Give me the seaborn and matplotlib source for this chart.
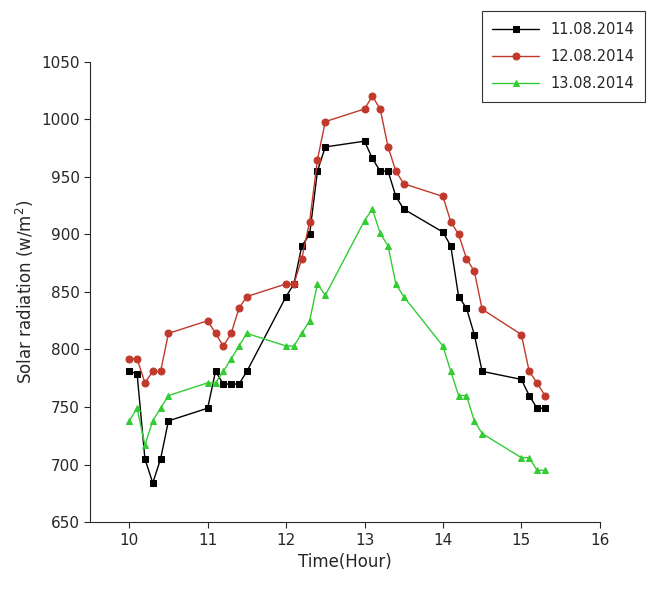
import matplotlib
matplotlib.use('Agg')
import matplotlib.pyplot as plt
import pandas as pd
import seaborn as sns

hours = [10.0, 10.1, 10.2, 10.3, 10.4, 10.5, 11.0, 11.1, 11.2, 11.3, 11.4, 11.5,
         12.0, 12.1, 12.2, 12.3, 12.4, 12.5, 13.0, 13.1, 13.2, 13.3, 13.4, 13.5,
         14.0, 14.1, 14.2, 14.3, 14.4, 14.5, 15.0, 15.1, 15.2, 15.3]

day1 = [781, 779, 705, 684, 705, 738, 749, 781, 770, 770, 770, 781,
        846, 857, 890, 900, 955, 976, 981, 966, 955, 955, 933, 922,
        902, 890, 846, 836, 813, 781, 774, 760, 749, 749]
day2 = [792, 792, 771, 781, 781, 814, 825, 814, 803, 814, 836, 846,
        857, 857, 879, 911, 965, 998, 1009, 1020, 1009, 976, 955, 944,
        933, 911, 900, 879, 868, 835, 813, 781, 771, 760]
day3 = [738, 749, 717, 738, 749, 760, 771, 771, 781, 792, 803, 814,
        803, 803, 814, 825, 857, 847, 912, 922, 901, 890, 857, 846,
        803, 781, 760, 760, 738, 727, 706, 706, 695, 695]

labels = ['11.08.2014', '12.08.2014', '13.08.2014']
colors = ['black', '#c0392b', '#33cc33']
markers = ['s', 'o', '^']

df = pd.DataFrame({'Hour': hours * 3,
                   'Radiation': day1 + day2 + day3,
                   'Date': [l for l in labels for _ in hours]})

sns.set_style('white')
fig = plt.figure(figsize=(6.62, 5.94), dpi=100)
ax = fig.add_axes([0.136, 0.121, 0.77, 0.775])

for lab, c, m in zip(labels, colors, markers):
    sub = df[df['Date'] == lab]
    sns.lineplot(data=sub, x='Hour', y='Radiation', ax=ax, color=c, marker=m,
                 markersize=5, markeredgecolor=c, linewidth=1, label=lab)

ax.set_xlim(9.5, 16)
ax.set_ylim(650, 1050)
ax.set_xticks([10, 11, 12, 13, 14, 15, 16])
ax.set_yticks(range(650, 1051, 50))
ax.tick_params(labelsize=11, direction='out', length=4, left=True, bottom=True)
ax.spines['top'].set_visible(False)
ax.spines['right'].set_visible(False)
ax.set_xlabel('Time(Hour)', fontsize=12)
ax.set_ylabel('Solar radiation (w/m$^2$)', fontsize=12)

ax.get_legend().remove()
handles, labs = ax.get_legend_handles_labels()
leg = fig.legend(handles, labs, loc='upper right', bbox_to_anchor=(0.985, 0.993),
                 frameon=True, fancybox=False, edgecolor='black', fontsize=10.5,
                 handlelength=3.2, labelspacing=0.85, borderpad=0.7)
leg.get_frame().set_linewidth(0.8)

fig.savefig('out.png', dpi=100)
